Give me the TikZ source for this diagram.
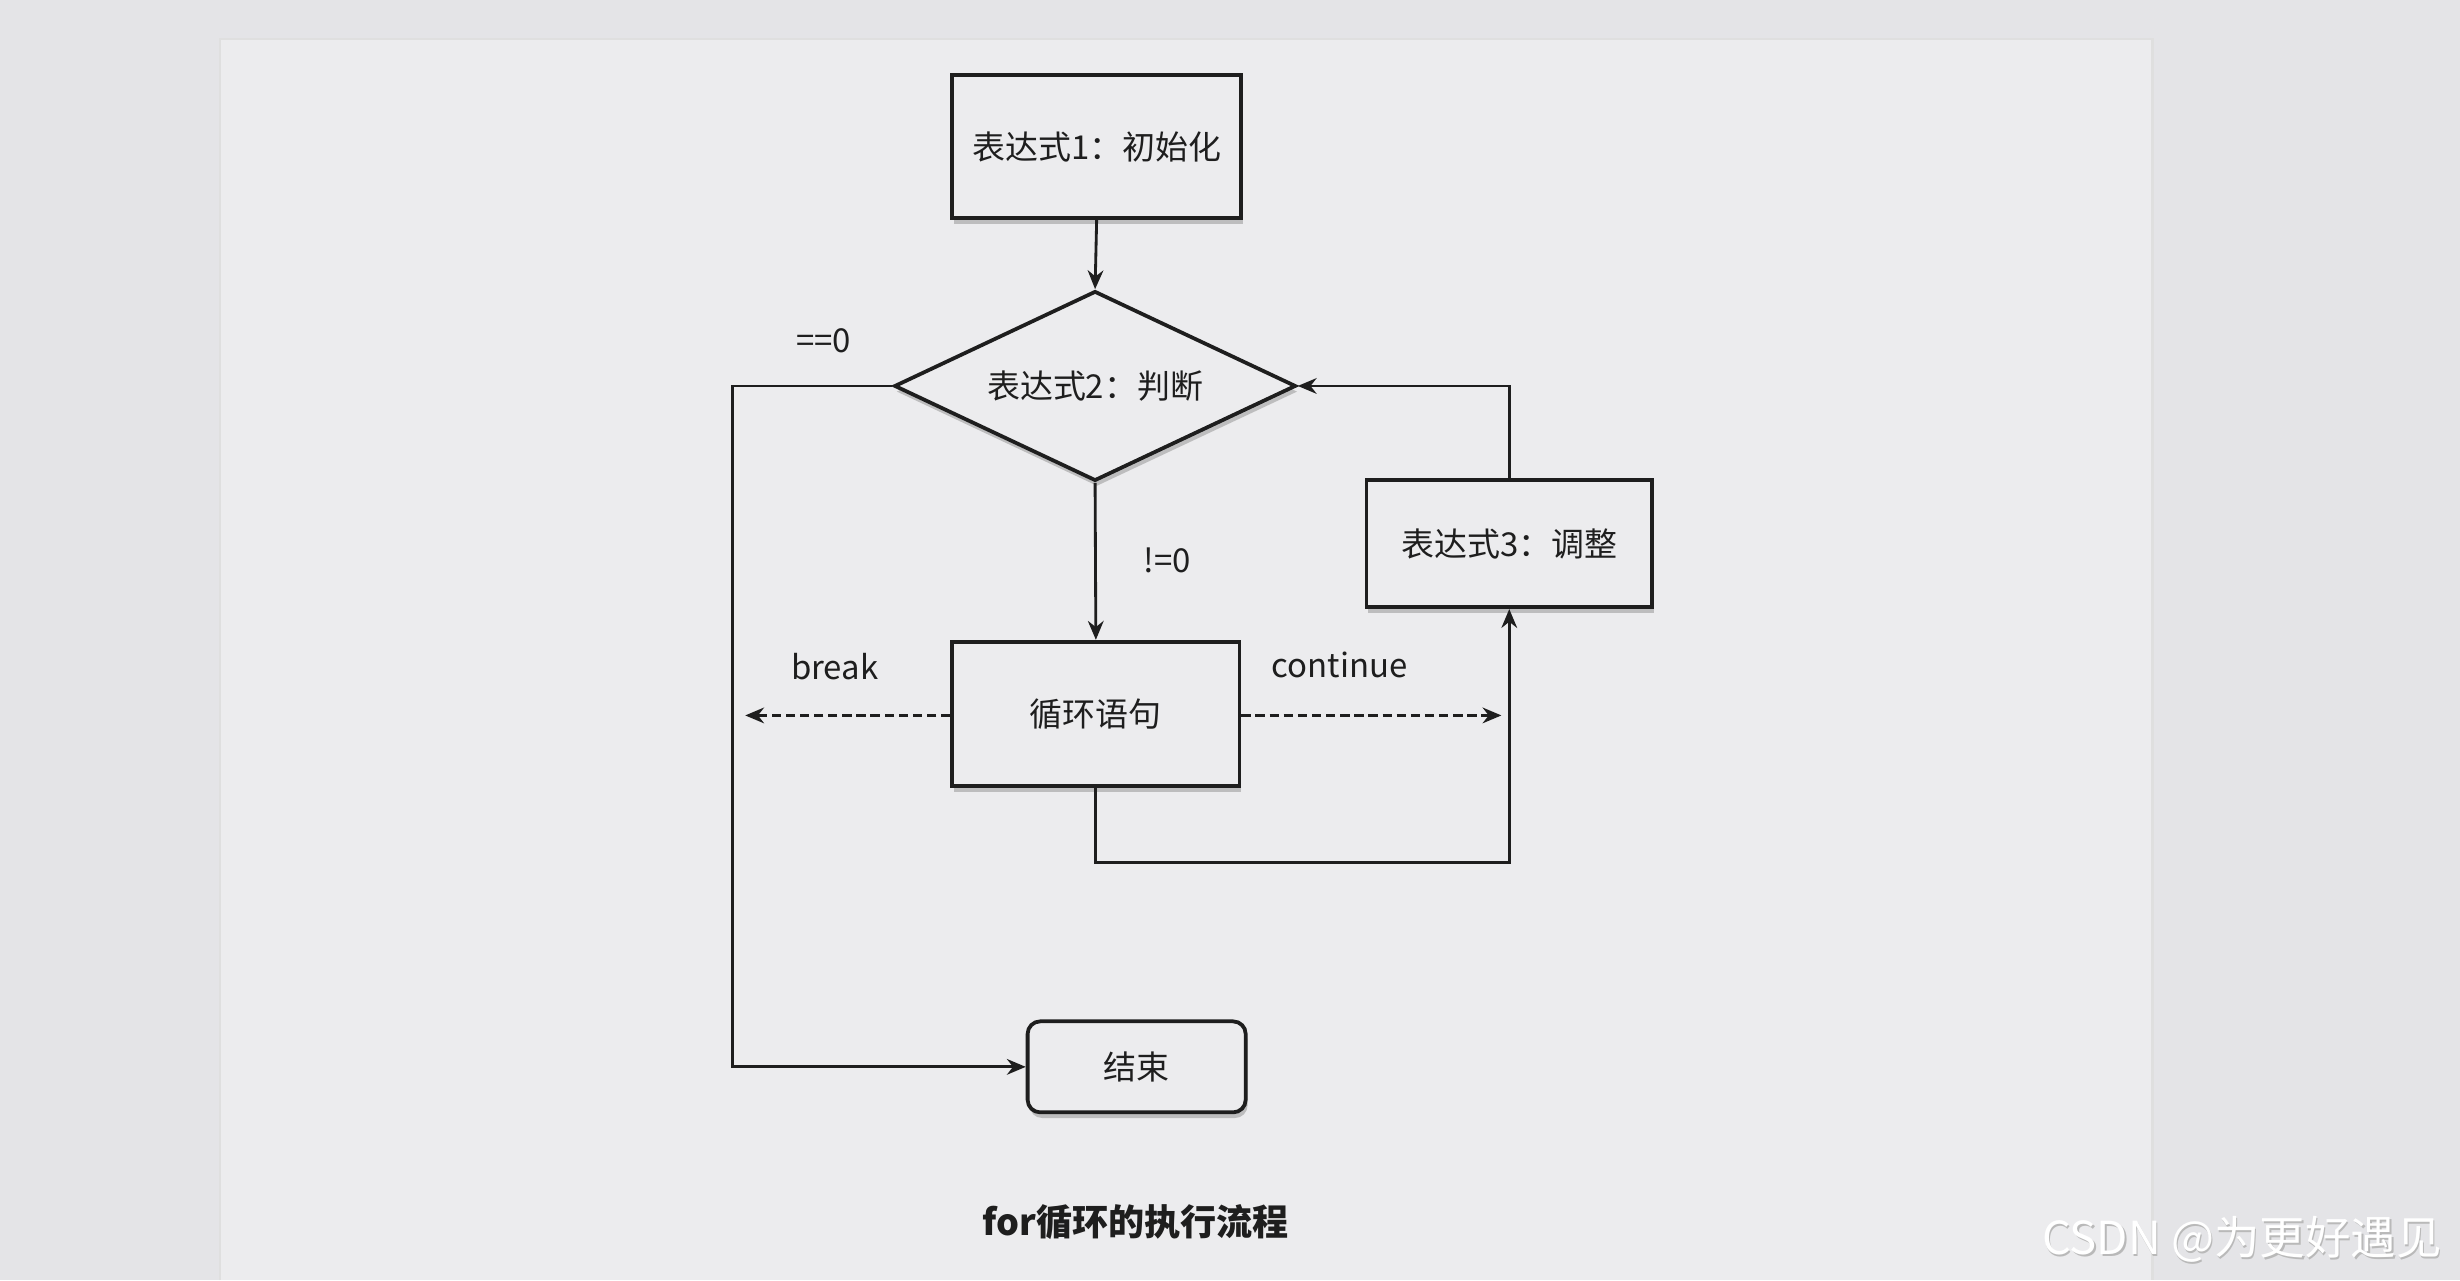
\documentclass[tikz,border=0pt]{standalone}
\usepackage{fontspec}
\setmainfont{Noto Sans CJK SC}
\usetikzlibrary{shapes.geometric,arrows.meta,shadows}
\definecolor{bgc}{RGB}{228,228,231}
\definecolor{paperc}{RGB}{236,236,238}
\definecolor{ink}{RGB}{30,30,30}
\tikzset{
  nodefont/.style={font=\fontsize{10.5}{12}\selectfont},
  shad/.style={drop shadow={shadow xshift=0.6pt, shadow yshift=-1.8pt, fill=gray!60, opacity=0.8}},
  box/.style={rectangle, draw=ink, line width=1.2pt, fill=paperc, inner sep=0pt, nodefont, text=ink, shad},
  dec/.style={diamond, aspect=2.1, draw=ink, line width=1.2pt, fill=paperc, inner sep=0pt, nodefont, text=ink, shad,
              minimum width=128pt, minimum height=60.5pt},
  conn/.style={draw=ink, line width=0.9pt, -{Stealth[length=6pt,width=5pt]}},
  dashconn/.style={conn, dash pattern=on 3pt off 1.5pt},
  lbl/.style={nodefont, text=ink, inner sep=0pt},
}
\begin{document}
\begin{tikzpicture}[x=0.5pt,y=-0.5pt]
\useasboundingbox (0,0) rectangle (1568,816);
\fill[bgc] (0,0) rectangle (1568,816);
\fill[paperc] (140,25) rectangle (1372,816);
\draw[gray!25, line width=0.7pt] (140,816) -- (140,25) -- (1372,25) -- (1372,816);

% nodes
\node[box, minimum width=92pt, minimum height=45.5pt] (b1) at (699,93.5) {表达式1：初始化};
\node[dec] (d) at (698,246) {表达式2：判断};
\node[box, minimum width=91pt, minimum height=40.5pt] (b3) at (962,346.5) {表达式3：调整};
\node[box, minimum width=91.5pt, minimum height=46pt] (b2) at (698.5,455) {循环语句};
\node[box, rounded corners=4pt, minimum width=69.5pt, minimum height=29pt] (e) at (724.5,680) {结束};

% helper coordinates
\coordinate (L) at (467,0);
\coordinate (B) at (0,550);
\coordinate (brk) at (475,456);
\coordinate (cnt) at (957,456);

% connectors
\draw[conn] (b1.south) -- (d.north);
\draw[conn] (d.west) -- (d.west -| L) |- (e.west);
\draw[conn] (b3.north) |- (d.east);
\draw[conn] (d.south) -- (b2.north);
\draw[conn] (b2.south) -- (b2.south |- B) -| (b3.south);
\draw[dashconn] (b2.west |- brk) -- (brk);
\draw[dashconn] (b2.east |- cnt) -- (cnt);

% labels
\node[lbl] (l0) at (525,217) {==0};
\node[lbl] (l1) at (744,357) {!=0};
\node[lbl] (l2) at (532,425) {break};
\node[lbl] (l3) at (854,424) {continue};

% caption
\node[text=ink, font=\fontsize{11.5}{13}\selectfont\bfseries] (cap) at (724,779) {for循环的执行流程};

% watermark
\node[text=gray!55, font=\fontsize{14.5}{16}\selectfont, inner sep=0pt] (wm0) at (1430,791.5) {CSDN @为更好遇见};
\node[text=white, font=\fontsize{14.5}{16}\selectfont, inner sep=0pt] (wm) at (1429,790) {CSDN @为更好遇见};
\end{tikzpicture}
\end{document}
